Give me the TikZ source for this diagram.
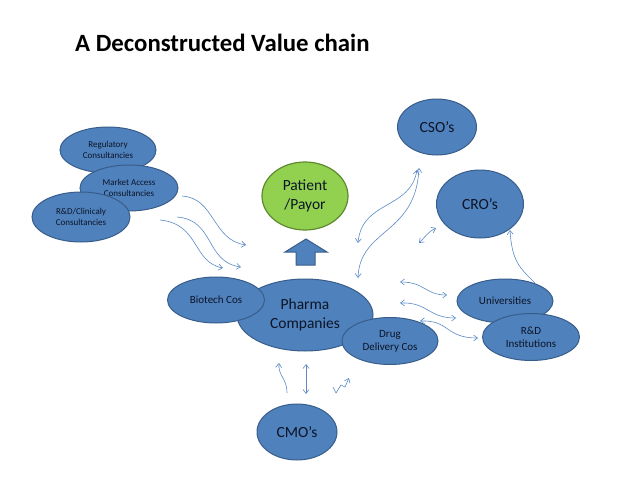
\documentclass[tikz,border=0pt]{standalone}
\usepackage{fontspec}
\setmainfont{Carlito}
\usetikzlibrary{shapes.geometric,arrows.meta}
\definecolor{ebfill}{HTML}{4F81BD}
\definecolor{ebline}{HTML}{385D8A}
\definecolor{gfill}{HTML}{92D050}
\definecolor{gline}{HTML}{5E8A30}
\definecolor{etext}{HTML}{0C1526}
\definecolor{conn}{HTML}{5A8AC6}
\begin{document}
\begin{tikzpicture}[x=1pt,y=-1pt,
  ell/.style={ellipse,draw=ebline,fill=ebfill,line width=1pt,inner sep=0pt,align=center,text=etext},
  small/.style={font=\fontsize{9}{10.5}\selectfont},
  mid/.style={font=\fontsize{11}{13}\selectfont},
  big/.style={font=\fontsize{15.5}{18.5}\selectfont},
  conn/.style={draw=conn,line width=0.6pt,-{Straight Barb[length=4pt,width=6pt]}},
  dconn/.style={draw=conn,line width=0.6pt,{Straight Barb[length=4pt,width=6pt]}-{Straight Barb[length=4pt,width=6pt]}}]
\useasboundingbox (0,0) rectangle (638,479);
\node[font=\bfseries\fontsize{24.8}{28}\selectfont,anchor=base west,inner sep=0pt] (title) at (75,51) {A Deconstructed Value chain};
% left consultancies
\node[ell,small,minimum width=96pt,minimum height=46pt] (reg) at (108,150) {Regulatory\\Consultancies};
\node[ell,small,minimum width=98pt,minimum height=46pt] (mkt) at (129,188) {Market Access\\Consultancies};
\node[ell,small,minimum width=98pt,minimum height=50pt] (rdc) at (81,217) {R\&D/Clinicaly\\Consultancies};
% patient
\node[ellipse,draw=gline,fill=gfill,line width=1.2pt,inner sep=0pt,align=center,text=etext,big,minimum width=86pt,minimum height=68pt] (pat) at (305,196) {Patient\\/Payor};
\draw[draw=ebline,fill=ebfill,line width=1pt] (296,265) -- (296,252) -- (285,252) -- (306,239) -- (327,252) -- (315,252) -- (315,265) -- cycle;
% pharma
\node[ell,big,minimum width=136pt,minimum height=72pt] (ph) at (305,315) {Pharma\\Companies};
\node[ell,mid,minimum width=97pt,minimum height=46pt] (bio) at (216,300) {Biotech Cos};
\node[ell,mid,minimum width=96pt,minimum height=47pt] (drug) at (390,341) {Drug\\Delivery Cos};
% right
\node[ell,big,minimum width=79pt,minimum height=56pt] (cso) at (437,127) {CSO’s};
\node[ell,big,minimum width=87pt,minimum height=68pt] (cro) at (480,204) {CRO’s};
\node[ell,mid,minimum width=96pt,minimum height=44pt] (uni) at (505,301) {Universities};
\node[ell,mid,minimum width=97pt,minimum height=47pt] (rdi) at (531,337) {R\&D\\Institutions};
\node[ell,big,minimum width=80pt,minimum height=56pt] (cmo) at (297,432) {CMO’s};
% free-end coordinates
\coordinate (a1s) at (182,196); \coordinate (a1e) at (246,245);
\coordinate (a2s) at (177,217); \coordinate (a2e) at (241,267);
\coordinate (a3s) at (160,220); \coordinate (a3e) at (223,268);
\coordinate (b1s) at (358,243); \coordinate (b1e) at (417,170);
\coordinate (b2s) at (358,278); \coordinate (b2e) at (419,168);
\coordinate (c1s) at (419,243); \coordinate (c1e) at (436,228);
\coordinate (d1s) at (400,282); \coordinate (d1e) at (447,295);
\coordinate (d2s) at (400,303); \coordinate (d2e) at (456,318);
\coordinate (d3s) at (420,321); \coordinate (d3e) at (478,338);
\coordinate (e1s) at (535,283); \coordinate (e1e) at (510,230);
\coordinate (f1s) at (287,393); \coordinate (f1e) at (279,363);
\coordinate (f2s) at (306,364); \coordinate (f2e) at (306,394);
\coordinate (f3s) at (333,387); \coordinate (f3e) at (349,378);
% connectors
\draw[conn] (a1s) .. controls (215,198) and (212,240) .. (a1e);
\draw[conn] (a2s) .. controls (215,220) and (205,262) .. (a2e);
\draw[conn] (a3s) .. controls (200,224) and (192,262) .. (a3e);
\draw[dconn] (b1s) .. controls (362,200) and (410,210) .. (b1e);
\draw[dconn] (b2s) .. controls (360,228) and (416,235) .. (b2e);
\draw[dconn] (c1s) .. controls (426,236) and (428,232) .. (c1e);
\draw[dconn] (d1s) .. controls (425,282) and (425,295) .. (d1e);
\draw[dconn] (d2s) .. controls (428,302) and (428,318) .. (d2e);
\draw[dconn] (d3s) .. controls (450,320) and (445,338) .. (d3e);
\draw[conn] (e1s) .. controls (520,268) and (512,262) .. (e1e);
\draw[conn] (f1s) .. controls (287,378) and (278,376) .. (f1e);
\draw[dconn] (f2s) -- (f2e);
\draw[conn] (f3s) -- (336,393) -- (341,385) -- (345,387) -- (f3e);
\end{tikzpicture}
\end{document}
